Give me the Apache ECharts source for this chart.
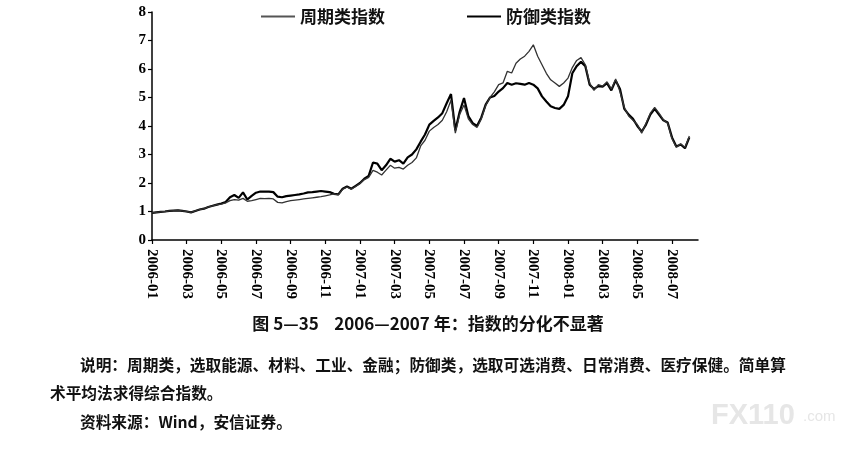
<!DOCTYPE html>
<html><head><meta charset="utf-8">
<script src="https://cdn.jsdelivr.net/npm/echarts@6/dist/echarts.min.js"></script>
<style>html,body{margin:0;padding:0;background:#fff}#c{width:856px;height:449px}</style>
</head><body><div id="c"></div>
<script>
// Tick labels (every two months), weekly sampling between them (8 weeks per tick)
const tickLabels = ['2006-01','2006-03','2006-05','2006-07','2006-09','2006-11','2007-01','2007-03','2007-05','2007-07','2007-09','2007-11','2008-01','2008-03','2008-05','2008-07','2008-09'];
const weeksPerTick = 8;
const weekCount = 127;
const categories = [];
for (let i = 0; i < weekCount; i++) {
  categories.push(tickLabels[Math.floor(i / weeksPerTick)] + '|' + (i % weeksPerTick));
}
// 周期类指数 (cyclical)
const cyclical = [
0.95,0.97,0.99,1.00,1.02,1.03,1.04,1.02,1.00,0.97,1.02,1.07,1.10,1.16,1.20,1.24,
1.26,1.30,1.38,1.42,1.40,1.46,1.36,1.38,1.42,1.46,1.45,1.46,1.44,1.32,1.30,1.35,
1.38,1.40,1.42,1.44,1.46,1.48,1.50,1.52,1.55,1.58,1.62,1.58,1.78,1.86,1.78,1.88,
1.98,2.12,2.20,2.44,2.38,2.28,2.45,2.62,2.52,2.55,2.49,2.62,2.72,2.88,3.30,3.50,
3.82,3.95,4.05,4.20,4.50,4.90,3.75,4.40,4.74,4.25,4.05,3.95,4.25,4.72,5.00,5.20,
5.45,5.51,5.92,5.86,6.20,6.35,6.45,6.62,6.85,6.45,6.15,5.85,5.62,5.51,5.39,5.51,
5.68,6.05,6.30,6.40,6.15,5.50,5.25,5.45,5.40,5.55,5.30,5.65,5.20,4.65,4.35,4.20,
4.05,3.75,4.10,4.45,4.65,4.45,4.22,4.10,3.55,3.25,3.38,3.25,3.65
];
// 防御类指数 (defensive)
const defensive = [
0.95,0.97,0.99,1.00,1.02,1.03,1.04,1.02,1.00,0.97,1.02,1.07,1.10,1.16,1.20,1.24,
1.28,1.33,1.50,1.58,1.48,1.67,1.42,1.55,1.66,1.70,1.70,1.70,1.68,1.52,1.50,1.54,
1.56,1.58,1.60,1.63,1.67,1.68,1.70,1.72,1.70,1.68,1.62,1.60,1.80,1.88,1.80,1.90,
2.00,2.15,2.25,2.72,2.68,2.45,2.62,2.85,2.75,2.80,2.68,2.90,3.00,3.18,3.45,3.70,
4.05,4.18,4.30,4.45,4.80,5.12,3.85,4.50,4.98,4.35,4.10,4.00,4.30,4.75,5.00,5.05,
5.21,5.33,5.51,5.45,5.50,5.48,5.45,5.51,5.45,5.32,5.04,4.86,4.69,4.63,4.60,4.74,
5.04,5.85,6.10,6.25,6.10,5.45,5.30,5.40,5.38,5.50,5.25,5.60,5.30,4.60,4.40,4.25,
4.00,3.80,4.05,4.40,4.60,4.40,4.20,4.12,3.60,3.28,3.35,3.22,3.60
];
const yTicks = [0,1,2,3,4,5,6,7,8];

const chart = echarts.init(document.getElementById('c'), null, {renderer: 'canvas'});
const serif = '"Liberation Serif","DejaVu Serif",serif';
const cjk = '"Noto Sans CJK SC","Noto Sans",sans-serif';
chart.setOption({
  animation: false,
  backgroundColor: '#fff',
  legend: {
    show: true, orient: 'horizontal', top: 3, left: 256, itemGap: 82, itemWidth: 34, itemHeight: 2,
    icon: 'rect',
    textStyle: {fontFamily: cjk, fontSize: 17, fontWeight: 'bold', color: '#111'},
    data: [
      {name: '周期类指数', itemStyle: {color: '#555'}},
      {name: '防御类指数', itemStyle: {color: '#000'}}
    ]
  },
  grid: {left: 152, top: 12, width: 546, height: 228, containLabel: false},
  xAxis: {
    type: 'category', data: categories, boundaryGap: false,
    axisLine: {lineStyle: {color: '#000', width: 1.5}},
    axisTick: {interval: weeksPerTick - 1, length: 4, lineStyle: {color: '#000', width: 1.2}},
    axisLabel: {
      interval: weeksPerTick - 1, rotate: -90, margin: 9,
      fontFamily: serif, fontSize: 15, fontWeight: 'bold', color: '#000',
      formatter: v => v.split('|')[0]
    },
    splitLine: {show: false}
  },
  yAxis: {
    type: 'value', min: yTicks[0], max: yTicks[yTicks.length - 1], interval: 1,
    axisLine: {show: true, lineStyle: {color: '#000', width: 1.5}},
    axisTick: {show: true, length: 4, lineStyle: {color: '#000', width: 1.2}},
    axisLabel: {fontFamily: serif, fontSize: 15, fontWeight: 'bold', color: '#000', margin: 6},
    splitLine: {show: false}
  },
  series: [
    {name: '周期类指数', type: 'line', data: cyclical, showSymbol: false, symbol: 'none',
     lineStyle: {color: '#333', width: 1.3}, itemStyle: {color: '#333'}, z: 3},
    {name: '防御类指数', type: 'line', data: defensive, showSymbol: false, symbol: 'none',
     lineStyle: {color: '#000', width: 2.2}, itemStyle: {color: '#000'}, z: 2}
  ],
  graphic: [
    {type: 'text', left: 'center', top: 315, style: {text: '图 5—35    2006—2007 年：指数的分化不显著', font: 'bold 17px ' + cjk, fill: '#111'}},
    {type: 'text', left: 80, top: 357, style: {text: '说明：周期类，选取能源、材料、工业、金融；防御类，选取可选消费、日常消费、医疗保健。简单算', font: 'bold 15.7px ' + cjk, fill: '#111'}},
    {type: 'text', left: 50, top: 385, style: {text: '术平均法求得综合指数。', font: 'bold 15.7px ' + cjk, fill: '#111'}},
    {type: 'text', left: 80, top: 414, style: {text: '资料来源：Wind，安信证券。', font: 'bold 15.7px ' + cjk, fill: '#111'}},
    {type: 'text', left: 711, top: 401, style: {text: 'FX110', font: 'bold 29px "Liberation Sans",sans-serif', fill: '#e6e6e6'}},
    {type: 'text', left: 803, top: 409, style: {text: '.com', font: '15px "Liberation Sans",sans-serif', fill: '#e6e6e6'}}
  ]
});
</script></body></html>
